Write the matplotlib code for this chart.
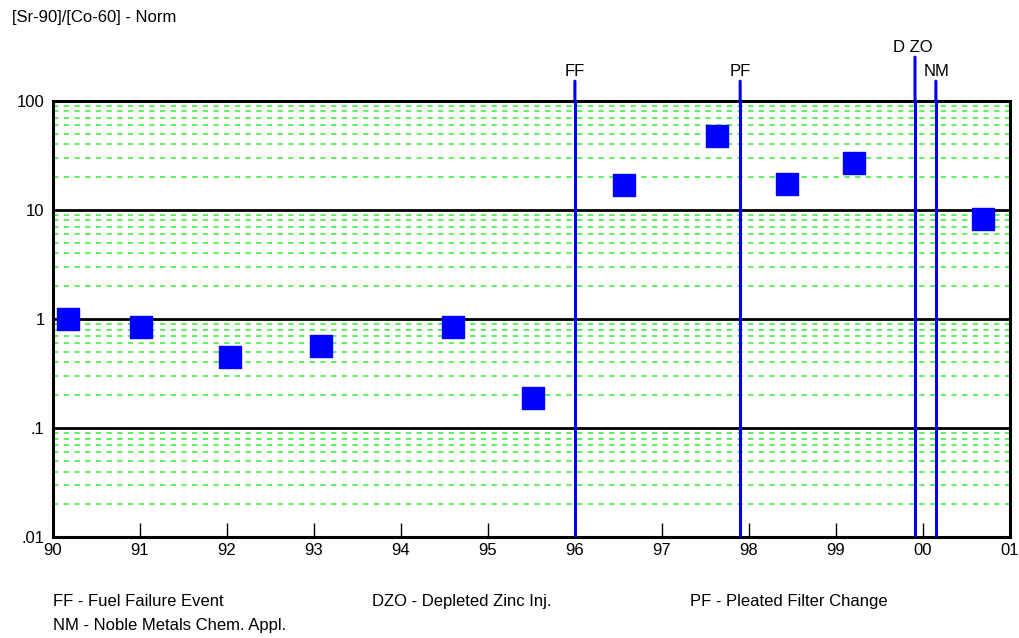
import numpy as np
import matplotlib.pyplot as plt
from matplotlib.ticker import FixedLocator, NullFormatter, NullLocator

plt.rcParams['font.family'] = ['Liberation Sans Narrow', 'Liberation Sans', 'DejaVu Sans']

# data
yr = [90.17, 91.01, 92.04, 93.08, 94.60, 95.52, 96.57, 97.63, 98.44, 99.21, 100.69]
ratio = [1.0, 0.85, 0.45, 0.56, 0.85, 0.19, 17.0, 48.0, 17.3, 27.0, 8.3]

events = ['FF', 'PF', 'DZO', 'NM']
event_yr = [96.0, 97.9, 99.91, 100.15]
event_lbl = ['FF', 'PF', 'D ZO', 'NM']

year_ticks = list(range(90, 102))
year_lbls = ['90', '91', '92', '93', '94', '95', '96', '97', '98', '99', '00', '01']
ytick_vals = [0.01, 0.1, 1, 10, 100]
ytick_lbls = ['.01', '.1', '1', '10', '100']

fig = plt.figure(figsize=(10.19, 6.38), dpi=100)
ax = fig.add_axes([0.052, 0.158, 0.939, 0.684])
ax.set_yscale('log')
ax.set_xlim(90, 101)
ax.set_ylim(0.01, 100)

# minor green dashed grid
for d in [0.01, 0.1, 1, 10]:
    for m in range(2, 10):
        ax.axhline(d * m, color='#33ee33', lw=1.1, ls=(0, (3.5, 3.5)), zorder=1)
for v in [0.1, 1, 10]:
    ax.axhline(v, color='black', lw=2, zorder=2)

for ex in event_yr:
    ax.axvline(ex, color='#0000ee', lw=2.2, zorder=3)

ax.scatter(yr, ratio, marker='s', s=270, color='#0000ff', zorder=5)

ax.yaxis.set_major_locator(FixedLocator(ytick_vals))
ax.set_yticklabels(ytick_lbls)
ax.yaxis.set_minor_locator(NullLocator())
ax.yaxis.set_minor_formatter(NullFormatter())
ax.tick_params(axis='y', length=0, pad=6, labelsize=12)

ax.set_xticks(year_ticks)
ax.set_xticklabels(year_lbls)
ax.tick_params(axis='x', direction='in', length=10, width=1, pad=4, labelsize=12)

for s in ax.spines.values():
    s.set_linewidth(2.2)

# event labels and lines above the plot
for ex, el in zip(event_yr, event_lbl):
    top = 1.10 if el == 'D ZO' else 1.045
    ax.annotate('', xy=(ex, 1.0), xycoords=('data', 'axes fraction'),
                xytext=(ex, top), textcoords=('data', 'axes fraction'),
                arrowprops=dict(arrowstyle='-', color='#0000ee', lw=2.2, shrinkA=0, shrinkB=0))
    dx = -0.02 if el == 'D ZO' else (0.01 if el == 'NM' else 0)
    ax.text(ex + dx, top + 0.005, el, transform=ax.get_xaxis_transform(),
            ha='center', va='bottom', fontsize=12)

fig.text(0.012, 0.972, '[Sr-90]/[Co-60] - Norm', fontsize=12, va='center')
fig.text(0.052, 0.057, 'FF - Fuel Failure Event', fontsize=12, va='center')
fig.text(0.365, 0.057, 'DZO - Depleted Zinc Inj.', fontsize=12, va='center')
fig.text(0.677, 0.057, 'PF - Pleated Filter Change', fontsize=12, va='center')
fig.text(0.052, 0.020, 'NM - Noble Metals Chem. Appl.', fontsize=12, va='center')

fig.savefig('out.png', dpi=100)
